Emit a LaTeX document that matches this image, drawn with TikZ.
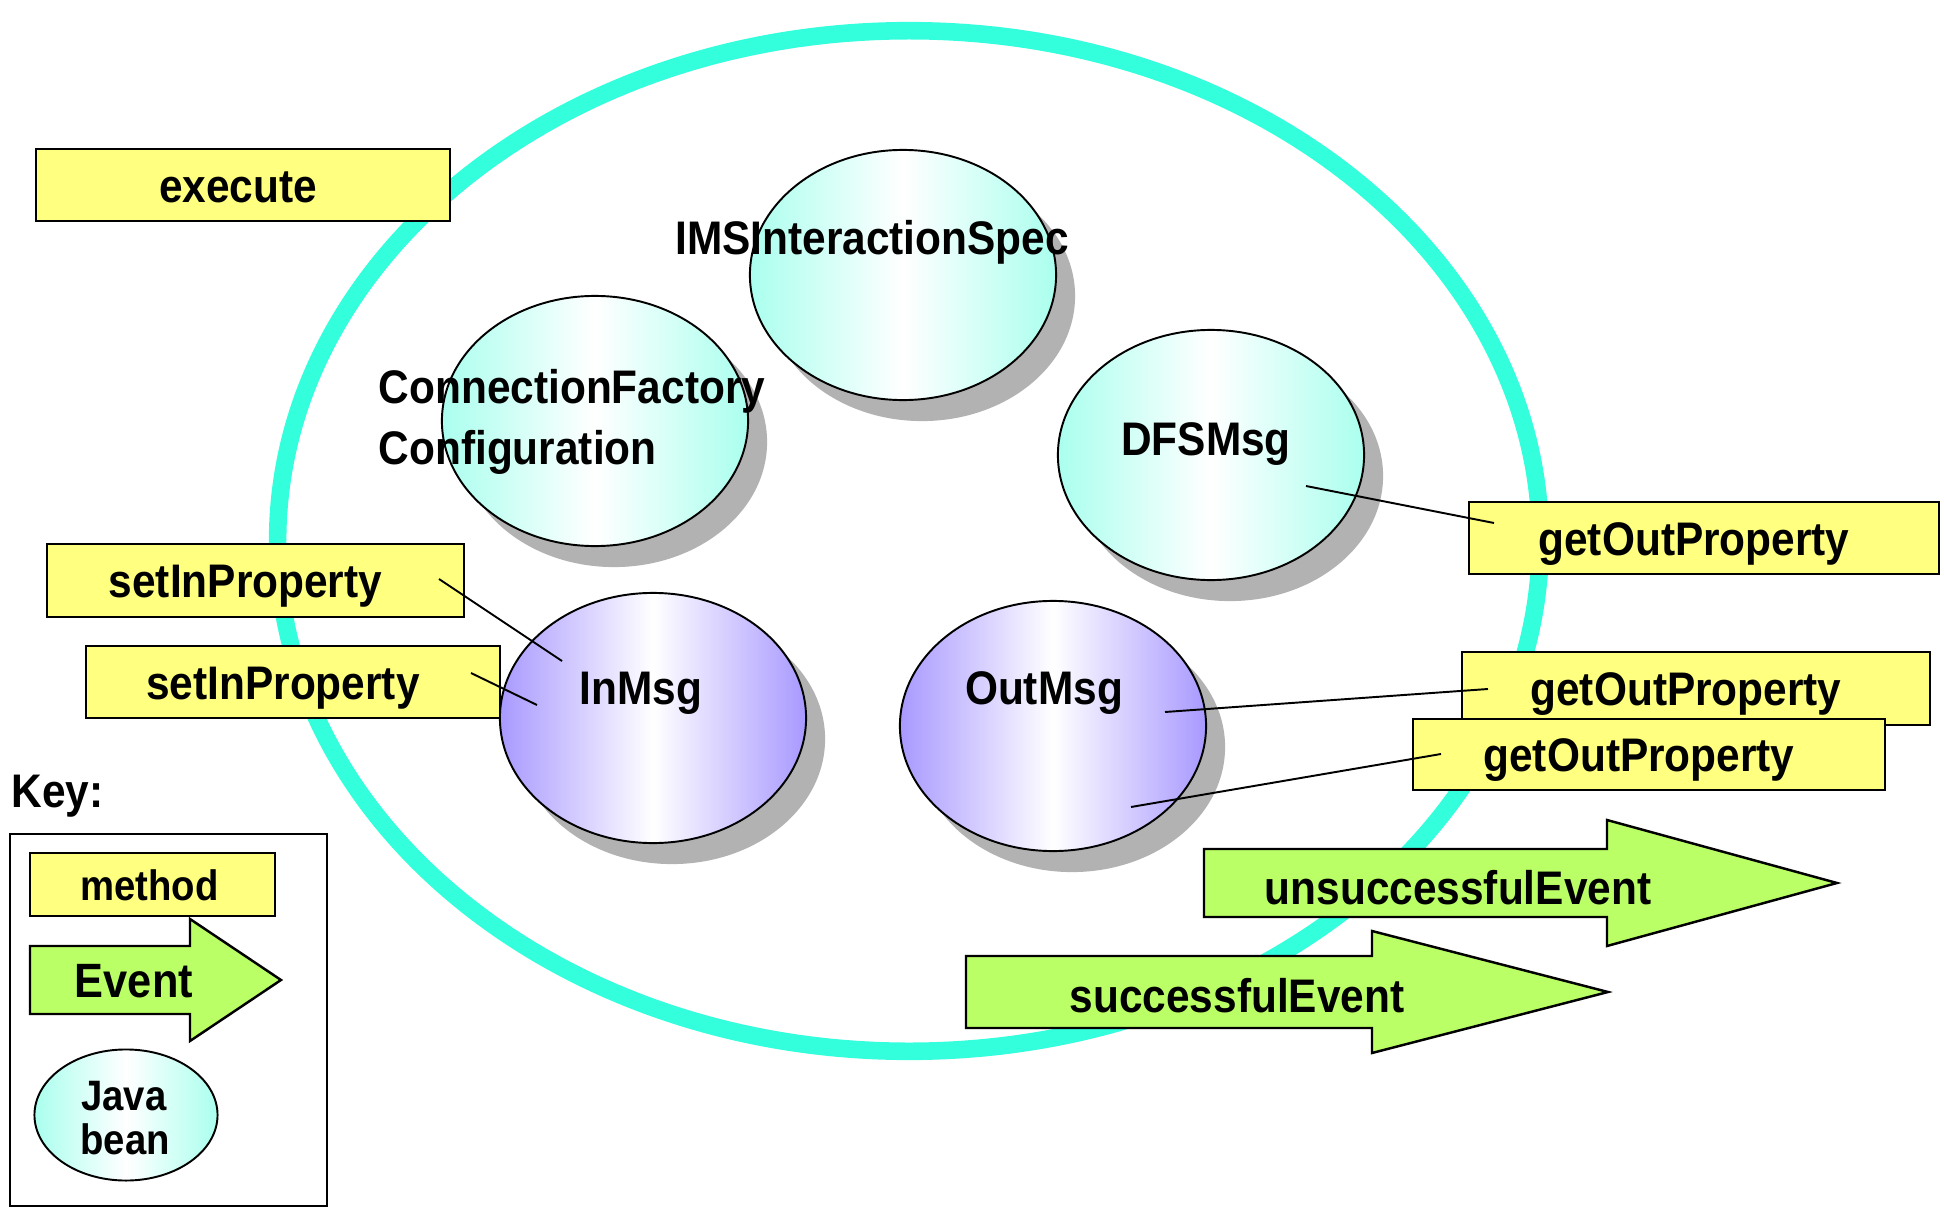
\documentclass[tikz,border=0pt]{standalone}
\usepackage{fontspec}
\newfontfamily\lab{Liberation Sans}[FakeStretch=0.9]
\usetikzlibrary{shapes.geometric,shadows}

\definecolor{ringc}{RGB}{51,255,221}
\definecolor{methody}{RGB}{255,255,128}
\definecolor{eventg}{RGB}{187,255,102}
\definecolor{shadowc}{RGB}{178,178,178}
\definecolor{cyanedge}{RGB}{170,255,238}
\definecolor{purpleedge}{RGB}{168,153,255}

% method labels sit a little left of the box centre
\newcommand\leftnudge{\hspace*{-0.2cm}}

\tikzset{
  txt/.style={font=\lab\bfseries\fontsize{13.4pt}{16pt}\selectfont, inner sep=0pt},
  smalltxt/.style={font=\lab\bfseries\fontsize{12.1pt}{14pt}\selectfont, inner sep=0pt},
  methodbox/.style={txt, draw, fill=methody, line width=0.7pt,
    text height=0.34cm, text depth=0pt},
  beanshape/.style={ellipse, draw, line width=0.55pt, inner sep=0pt,
    minimum width=3.06cm, minimum height=2.5cm},
  shadowed/.style={drop shadow={shadow xshift=0.19cm, shadow yshift=-0.21cm,
    fill=shadowc, opacity=1}},
  cyanbean/.style={beanshape, left color=cyanedge, right color=cyanedge, middle color=white},
  purplebean/.style={beanshape, left color=purpleedge, right color=purpleedge, middle color=white},
  eventarrow/.style={draw, fill=eventg, line width=0.7pt, line join=miter},
  link/.style={draw, line width=0.55pt},
  ring/.style={draw=ringc, line width=5pt}
}

\begin{document}
\begin{tikzpicture}[x=0.01cm, y=-0.01cm]
\useasboundingbox[fill=white] (0,0) rectangle (1944,1209);

% outer boundary of the component
\draw[ring] (909,541) ellipse [x radius=6.31cm, y radius=5.10cm];

% Java beans
\node[cyanbean, shadowed] (ims) at (903,275) {};
\node[cyanbean, shadowed] (cfc) at (595,421) {};
\node[cyanbean, shadowed] (dfs) at (1211,455) {};
\node[purplebean, shadowed] (inmsg) at (653,718) {};
\node[purplebean, shadowed] (outmsg) at (1053,726) {};

\node[txt, anchor=base] (imsl) at (872,254) {IMSInteractionSpec};
\node[txt, anchor=base west] (cfcl1) at (378,403) {ConnectionFactory};
\node[txt, anchor=base west] (cfcl2) at (378,464) {Configuration};
\node[txt, anchor=base] (dfsl) at (1206,455) {DFSMsg};
\node[txt, anchor=base] (inl) at (641,704) {InMsg};
\node[txt, anchor=base] (outl) at (1044,704) {OutMsg};

% methods
\node[methodbox, minimum width=4.14cm, minimum height=0.72cm] (exec) at (243,185) {\hspace*{-0.1cm}execute};
\node[methodbox, minimum width=4.17cm, minimum height=0.73cm] (setA) at (255.5,580.5) {\leftnudge setInProperty};
\node[methodbox, minimum width=4.14cm, minimum height=0.72cm] (setB) at (293,682) {\leftnudge setInProperty};
\node[methodbox, minimum width=4.70cm, minimum height=0.72cm] (getA) at (1704,538) {\leftnudge getOutProperty};
\node[methodbox, minimum width=4.68cm, minimum height=0.73cm] (getB) at (1696,688.5) {\leftnudge getOutProperty};
\node[methodbox, minimum width=4.72cm, minimum height=0.71cm] (getC) at (1649,754.5) {\leftnudge getOutProperty};

% links between methods and beans
\coordinate (setAend) at (439,579);
\coordinate (setAin) at (562,661);
\coordinate (setBend) at (471,673);
\coordinate (setBin) at (537,705);
\coordinate (dfsin) at (1306,486);
\coordinate (getAend) at (1494,523);
\coordinate (outinB) at (1165,712);
\coordinate (getBend) at (1488,689);
\coordinate (outinC) at (1131,807);
\coordinate (getCend) at (1441,754);
\draw[link] (setAend) -- (setAin);
\draw[link] (setBend) -- (setBin);
\draw[link] (dfsin) -- (getAend);
\draw[link] (outinB) -- (getBend);
\draw[link] (outinC) -- (getCend);

% events
\draw[eventarrow] (1204,849) -- (1607,849) -- (1607,820) -- (1837,883)
  -- (1607,946) -- (1607,917) -- (1204,917) -- cycle;
\node[txt, anchor=base] (unsucc) at (1458,904) {unsuccessfulEvent};
\draw[eventarrow] (966,956) -- (1372,956) -- (1372,931) -- (1608,992)
  -- (1372,1053) -- (1372,1028) -- (966,1028) -- cycle;
\node[txt, anchor=base] (succ) at (1237,1012) {successfulEvent};

% key
\node[txt, anchor=base west] (keyl) at (11,807) {Key:};
\node[draw, line width=0.6pt, minimum width=3.17cm, minimum height=3.72cm] (keybox) at (168.5,1020) {};
\node[methodbox, smalltxt, minimum width=2.45cm, minimum height=0.63cm,
  text height=0.31cm] (keymethod) at (152.5,884.5) {\hspace*{-0.06cm}method};
\draw[eventarrow] (30,946) -- (190,946) -- (190,919) -- (281,980)
  -- (190,1041) -- (190,1014) -- (30,1014) -- cycle;
\node[txt, font=\lab\bfseries\fontsize{13.7pt}{16pt}\selectfont, anchor=base] (keyevent) at (134,997) {Event};
\node[beanshape, left color=cyanedge, right color=cyanedge, middle color=white,
  minimum width=1.83cm, minimum height=1.31cm] (keybean) at (126,1115) {};
\node[smalltxt, anchor=base] (keyjava) at (124,1110) {Java};
\node[smalltxt, anchor=base] (keybeanl) at (125,1154) {bean};
\end{tikzpicture}
\end{document}
